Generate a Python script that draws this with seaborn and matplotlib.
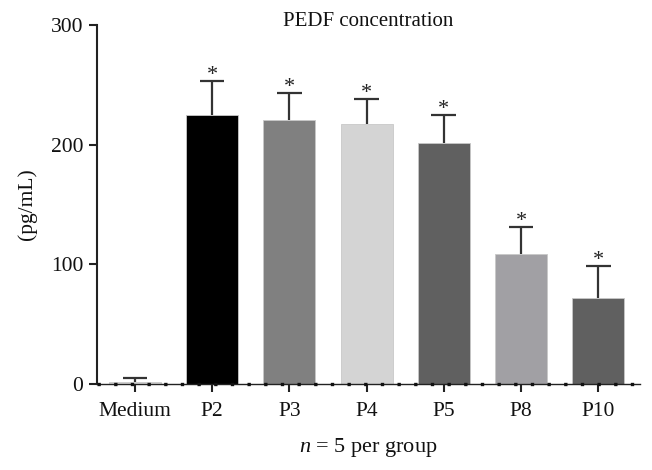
import matplotlib
matplotlib.use("Agg")
import matplotlib.pyplot as plt
import seaborn as sns
import pandas as pd

categories = ["Medium", "P2", "P3", "P4", "P5", "P8", "P10"]
values = [2, 225, 221, 217, 201, 109, 72]
errors = [3, 28, 22, 21, 24, 22, 27]
colors = ["#d9d9d9", "#000000", "#808080", "#d4d4d4", "#606060", "#a1a0a4", "#606060"]
stars = ["", "*", "*", "*", "*", "*", "*"]

sns.set_theme(style="white")
plt.rcParams['font.family'] = ['Liberation Serif', 'DejaVu Serif']
plt.rcParams['mathtext.fontset'] = 'custom'
plt.rcParams['mathtext.rm'] = 'Liberation Serif'
plt.rcParams['mathtext.it'] = 'Liberation Serif:italic'

df = pd.DataFrame({"group": categories, "value": values})

fig = plt.figure(figsize=(6.52, 4.70), dpi=100)
ax = fig.add_axes([0.1488, 0.183, 0.8328, 0.7638])

sns.barplot(data=df, x="group", y="value", hue="group", palette=colors,
            legend=False, width=0.675, ax=ax, errorbar=None,
            edgecolor="#c8c8c8", linewidth=0.6)

xs = list(range(len(categories)))
tops = [v + e for v, e in zip(values, errors)]
ax.vlines(xs, values, tops, color="#333333", lw=1.6, zorder=3)
ax.hlines(tops, [x - 0.16 for x in xs], [x + 0.16 for x in xs],
          color="#333333", lw=1.6, zorder=3)

for x, t, s in zip(xs, tops, stars):
    if s:
        ax.text(x, t - 3.5, s, ha="center", va="bottom", fontsize=16, color="#222222")

ax.set_xlim(-0.49, 6.54)
ax.set_ylim(0, 300)
ax.set_yticks([0, 100, 200, 300])
ax.set_xticks(xs)
ax.set_xticklabels(categories)

for side in ["top", "right"]:
    ax.spines[side].set_visible(False)
ax.spines["left"].set_color("#222222")
ax.spines["left"].set_linewidth(1.5)
ax.spines["bottom"].set_color("#222222")
ax.spines["bottom"].set_linewidth(1.0)
ax.axhline(0, color="#111111", ls=(0, (1, 4)), lw=2.4, zorder=4, clip_on=False)

ax.tick_params(axis="both", which="both", direction="out", length=6, width=1.5,
               color="#222222", labelsize=15.5, labelcolor="#111111", pad=4)
ax.tick_params(axis="x", pad=7)
ax.tick_params(left=True, bottom=True)

ax.set_xlabel("$\\it{n}$ = 5 per group", fontsize=16, color="#111111", labelpad=11)
ax.set_ylabel("(pg/mL)", fontsize=15.5, color="#111111", labelpad=10)
ax.text(0.5, 1.01, "PEDF concentration", transform=ax.transAxes,
        ha="center", va="center", fontsize=15, color="#111111")

fig.savefig("out.png", dpi=100)
